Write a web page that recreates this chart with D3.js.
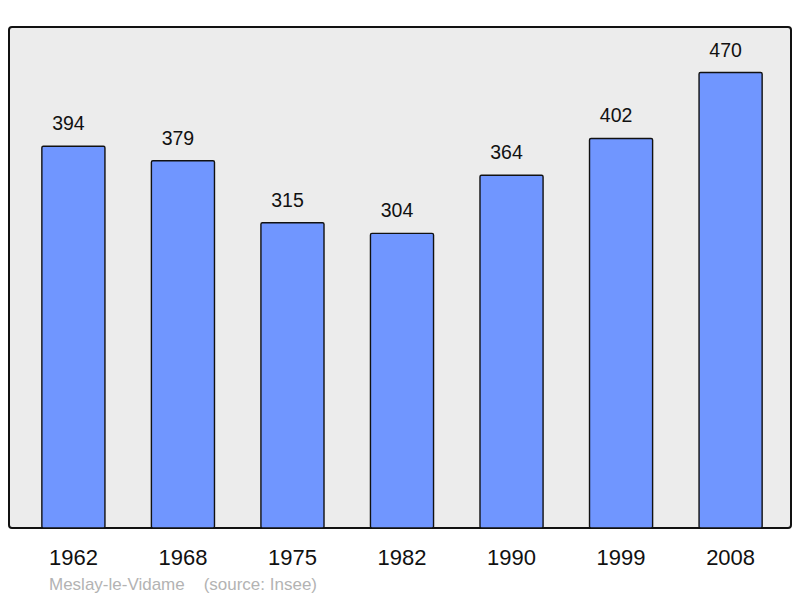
<!DOCTYPE html>
<html>
<head>
<meta charset="utf-8">
<script src="https://cdn.jsdelivr.net/npm/d3@7"></script>
<style>
  html, body { margin: 0; padding: 0; background: #fff; }
  svg { display: block; font-family: "Liberation Sans", Arial, sans-serif; }
</style>
</head>
<body>
<div id="chart"></div>
<script>
// population per census year
const years = ["1962", "1968", "1975", "1982", "1990", "1999", "2008"];
const population = [394, 379, 315, 304, 364, 402, 470];
const commune = "Meslay-le-Vidame";
const source = "(source: Insee)";

const width = 800;
const height = 598;
const frame = { left: 9, top: 27, right: 791, bottom: 528 };

const svg = d3.select("#chart")
    .append("svg")
        .attr("width", width)
        .attr("height", height);

// background panel
svg.append("rect")
    .attr("x", frame.left)
    .attr("y", frame.top)
    .attr("width", frame.right - frame.left)
    .attr("height", frame.bottom - frame.top)
    .attr("rx", 3)
    .attr("fill", "#ececec")
    .attr("stroke", "#111")
    .attr("stroke-width", 2);

const x = d3.scaleBand()
    .domain(years)
    .range([frame.left, 795])
    .paddingInner(0.424)
    .paddingOuter(0.3);

// top of the panel is 10% above the biggest value
const y = d3.scaleLinear()
    .domain([0, d3.max(population) * 1.1])
    .range([frame.bottom, frame.top]);

const data = years.map((yr, i) => ({ year: yr, value: population[i] }));

svg.selectAll("rect.bar")
    .data(data)
    .join("rect")
        .attr("class", "bar")
        .attr("x", d => x(d.year))
        .attr("y", d => y(d.value))
        .attr("width", x.bandwidth())
        .attr("height", d => y(0) - y(d.value))
        .attr("rx", 1.5)
        .attr("fill", "#7096ff")
        .attr("stroke", "#111")
        .attr("stroke-width", 1.4);

// value labels above each bar (sit a little left of centre in the original)
svg.selectAll("text.value")
    .data(data)
    .join("text")
        .attr("class", "value")
        .attr("x", d => x(d.year) + x.bandwidth() / 2 - 5)
        .attr("y", d => y(d.value) - 16)
        .attr("text-anchor", "middle")
        .attr("font-size", 19.5)
        .attr("fill", "#111")
        .text(d => d.value);

// x axis (year labels only)
const xAxis = svg.append("g")
    .attr("transform", `translate(0, ${frame.bottom})`)
    .call(d3.axisBottom(x).tickSize(0).tickPadding(0));

xAxis.select(".domain").remove();
xAxis.selectAll("text")
    .attr("y", 37)
    .attr("dy", null)
    .attr("font-size", 22)
    .attr("font-family", "\"Liberation Sans\", Arial, sans-serif")
    .attr("fill", "#111");

// footer
svg.append("text")
    .attr("x", 49)
    .attr("y", 590)
    .attr("font-size", 17)
    .attr("fill", "#b3b3b3")
    .attr("xml:space", "preserve")
    .style("white-space", "pre")
    .text(commune + "    " + source);
</script>
</body>
</html>
